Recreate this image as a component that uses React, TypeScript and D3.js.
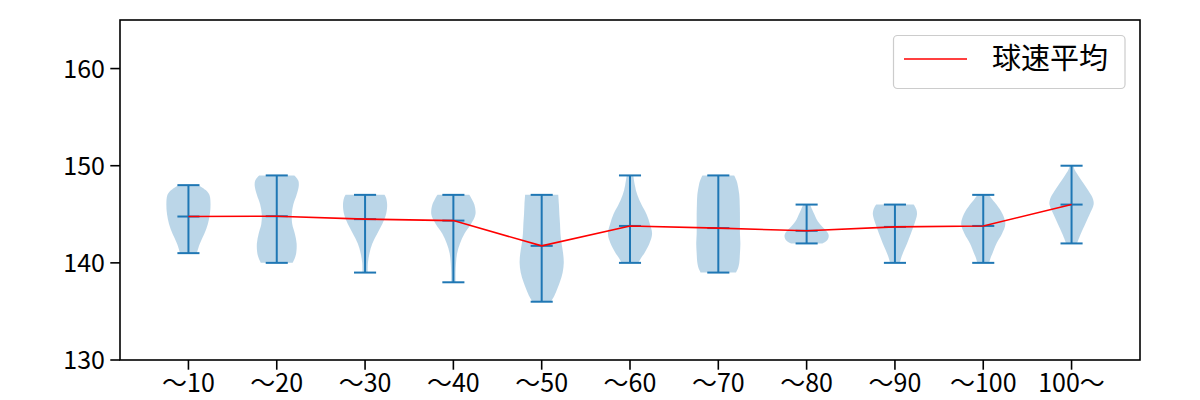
import React from "react";
import * as d3 from "d3";

const categories = ["～10", "～20", "～30", "～40", "～50", "～60", "～70", "～80", "～90", "～100", "100～"];
const means = [144.77, 144.8, 144.5, 144.35, 141.75, 143.8, 143.58, 143.3, 143.7, 143.8, 146.0];
const mins = [141, 140, 139, 138, 136, 140, 139, 142, 140, 140, 142];
const maxs = [148, 149, 147, 147, 147, 149, 149, 146, 146, 147, 150];
const yTicks = [130, 140, 150, 160];
const legendLabel = "球速平均";

// violin outline: [speed, relative half-width]
const profile10 = [[141, 0.38], [142, 0.52], [143, 0.72], [144, 0.88], [145, 0.97], [146, 1.0], [147, 0.95], [147.5, 0.78], [148, 0.45]];
const profile20 = [[140, 0.72], [140.5, 0.82], [141, 0.88], [142, 0.9], [143, 0.82], [144, 0.7], [145, 0.68], [146, 0.75], [147, 0.9], [148, 1.0], [148.5, 0.97], [149, 0.8]];
const profile30 = [[139, 0.12], [140, 0.13], [141, 0.2], [142, 0.33], [143, 0.55], [144, 0.78], [145, 0.95], [146, 1.0], [146.7, 0.95], [147, 0.88]];
const profile40 = [[138, 0.1], [139, 0.1], [140, 0.12], [141, 0.17], [142, 0.3], [143, 0.5], [144, 0.8], [145, 1.0], [146, 0.95], [146.5, 0.85], [147, 0.72]];
const profile50 = [[136, 0.42], [136.5, 0.55], [137, 0.65], [138, 0.82], [139, 0.95], [140, 1.0], [141, 0.97], [142, 0.9], [143, 0.85], [144, 0.83], [145, 0.8], [146, 0.78], [147, 0.75]];
const profile60 = [[140, 0.38], [140.5, 0.5], [141, 0.65], [142, 0.88], [143, 1.0], [144, 0.9], [145, 0.75], [146, 0.52], [147, 0.33], [148, 0.22], [149, 0.15]];
const profile70 = [[139, 0.8], [139.5, 0.9], [140, 0.95], [141, 0.98], [142, 1.0], [143, 0.98], [144, 0.98], [145, 0.98], [146, 0.97], [147, 0.95], [148, 0.88], [148.5, 0.82], [149, 0.72]];
const profile80 = [[142, 0.72], [142.3, 0.92], [142.7, 1.0], [143, 0.98], [143.5, 0.8], [144, 0.6], [144.5, 0.45], [145, 0.35], [145.5, 0.25], [146, 0.15]];
const profile90 = [[140, 0.22], [140.5, 0.28], [141, 0.36], [142, 0.55], [143, 0.72], [144, 0.88], [145, 1.0], [145.5, 0.97], [146, 0.85]];
const profile100 = [[140, 0.27], [140.5, 0.33], [141, 0.42], [142, 0.6], [143, 0.85], [144, 1.0], [145, 0.88], [146, 0.6], [146.5, 0.42], [147, 0.25]];
const profile100plus = [[142, 0.25], [142.5, 0.33], [143, 0.42], [144, 0.62], [145, 0.82], [146, 1.0], [146.5, 0.98], [147, 0.88], [148, 0.6], [149, 0.3], [149.5, 0.16], [150, 0.08]];
const profiles = [profile10, profile20, profile30, profile40, profile50, profile60, profile70, profile80, profile90, profile100, profile100plus];

const W = 1200, H = 400;
const left = 120, right = 1140, top = 20, bottom = 360;
const BLUE = "#1f77b4";
const FONT = "'Noto Sans CJK JP', 'Noto Sans', sans-serif";

export default function App() {
  const x = d3.scaleLinear().domain([0.225, 11.775]).range([left, right]);
  const y = d3.scaleLinear().domain([130, 165]).range([bottom, top]);
  const halfW = x(0.25) - x(0);
  const capHalf = x(0.125) - x(0);

  const meanLine = d3.line<number>()
    .x((_, i) => x(i + 1))
    .y((d) => y(d));

  return (
    <svg width={W} height={H} style={{ display: "block", position: "absolute", left: 0, top: 0 }}>
      <rect x={0} y={0} width={W} height={H} fill="white" />
      {profiles.map((p, i) => {
        const cx = x(i + 1);
        const area = d3.area<number[]>()
          .y((d) => y(d[0]))
          .x0((d) => cx - d[1] * halfW)
          .x1((d) => cx + d[1] * halfW)
          .curve(d3.curveCatmullRom.alpha(0.5));
        return <path key={"v" + i} d={area(p) || ""} fill={BLUE} fillOpacity={0.3} stroke="none" />;
      })}
      {categories.map((_, i) => {
        const cx = x(i + 1);
        return (
          <g key={"l" + i} stroke={BLUE} strokeWidth={2}>
            <line x1={cx} x2={cx} y1={y(mins[i])} y2={y(maxs[i])} />
            <line x1={cx - capHalf} x2={cx + capHalf} y1={y(mins[i])} y2={y(mins[i])} />
            <line x1={cx - capHalf} x2={cx + capHalf} y1={y(maxs[i])} y2={y(maxs[i])} />
            <line x1={cx - capHalf} x2={cx + capHalf} y1={y(means[i])} y2={y(means[i])} />
          </g>
        );
      })}
      <path d={meanLine(means) || ""} fill="none" stroke="red" strokeWidth={1.6} />
      <rect x={left} y={top} width={right - left} height={bottom - top} fill="none" stroke="black" strokeWidth={1.6} />
      {yTicks.map((t) => (
        <g key={"yt" + t}>
          <line x1={left - 9.7} x2={left} y1={y(t)} y2={y(t)} stroke="black" strokeWidth={1.6} />
          <text x={left - 15} y={y(t) + 9} textAnchor="end" fontFamily={FONT} fontSize={25} fill="black">{t}</text>
        </g>
      ))}
      {categories.map((c, i) => (
        <g key={"xt" + i}>
          <line x1={x(i + 1)} x2={x(i + 1)} y1={bottom} y2={bottom + 9.7} stroke="black" strokeWidth={1.6} />
          <text x={x(i + 1)} y={392} textAnchor="middle" fontFamily={FONT} fontSize={25} fill="black">{c}</text>
        </g>
      ))}
      <g>
        <rect x={893.5} y={35.5} width={231.5} height={53} rx={4} ry={4} fill="white" fillOpacity={0.8} stroke="#cccccc" strokeWidth={1.2} />
        <line x1={904} x2={967} y1={59} y2={59} stroke="red" strokeWidth={1.6} />
        <text x={992} y={69} fontFamily={FONT} fontSize={29} fill="black">{legendLabel}</text>
      </g>
    </svg>
  );
}
